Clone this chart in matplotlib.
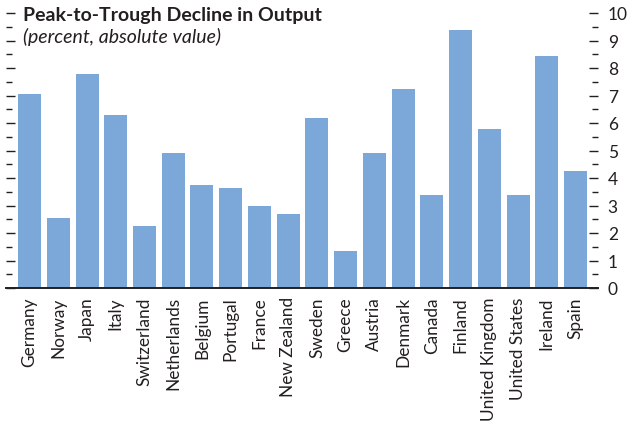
import matplotlib
matplotlib.use("Agg")
import matplotlib.pyplot as plt
from matplotlib.ticker import MultipleLocator

countries = ["Germany", "Norway", "Japan", "Italy", "Switzerland", "Netherlands",
             "Belgium", "Portugal", "France", "New Zealand", "Sweden", "Greece",
             "Austria", "Denmark", "Canada", "Finland", "United Kingdom",
             "United States", "Ireland", "Spain"]
decline = [7.05, 2.55, 7.8, 6.3, 2.25, 4.92, 3.76, 3.65, 2.98, 2.7, 6.2, 1.36,
           4.92, 7.22, 3.4, 9.37, 5.8, 3.37, 8.45, 4.26]
yticks = list(range(0, 11))

plt.rcParams['font.family'] = ['Lato', 'DejaVu Sans']
txt = '#231f20'
bar_color = '#7ba7d9'

fig = plt.figure(figsize=(6.28, 4.27), dpi=100)
W, H = 628, 427
ax = fig.add_axes([6 / W, (H - 289) / H, 592 / W, 275 / H])

x = list(range(len(countries)))
ax.bar(x, decline, width=0.8, color=bar_color, zorder=2)
ax.set_xlim(-0.82, 19.78)
ax.set_ylim(0, 10)

for s in ['top', 'left', 'right']:
    ax.spines[s].set_visible(False)
ax.spines['bottom'].set_linewidth(1.4)
ax.spines['bottom'].set_color(txt)

ax.yaxis.set_major_locator(MultipleLocator(1))
ax.yaxis.set_minor_locator(MultipleLocator(0.5))
ax.set_yticks(yticks)
ax.tick_params(axis='y', which='both', direction='in', left=True, right=True,
               labelleft=False, labelright=True, color=txt, width=1.0,
               labelsize=12.5, labelcolor=txt, pad=7)
ax.tick_params(axis='y', which='major', length=6.5)
ax.tick_params(axis='y', which='minor', length=4.3)

ax.set_xticks(x)
ax.set_xticklabels(countries, rotation=90, fontsize=12.4, color=txt)
ax.tick_params(axis='x', length=0, pad=6)

fig.text(23 / W, 1 - 15 / H, "Peak-to-Trough Decline in Output", fontsize=14,
         fontweight='bold', color=txt, va='center', ha='left')
fig.text(23 / W, 1 - 37 / H, "(percent, absolute value)", fontsize=14,
         fontstyle='italic', color=txt, va='center', ha='left')

fig.savefig("out.png", dpi=100)
